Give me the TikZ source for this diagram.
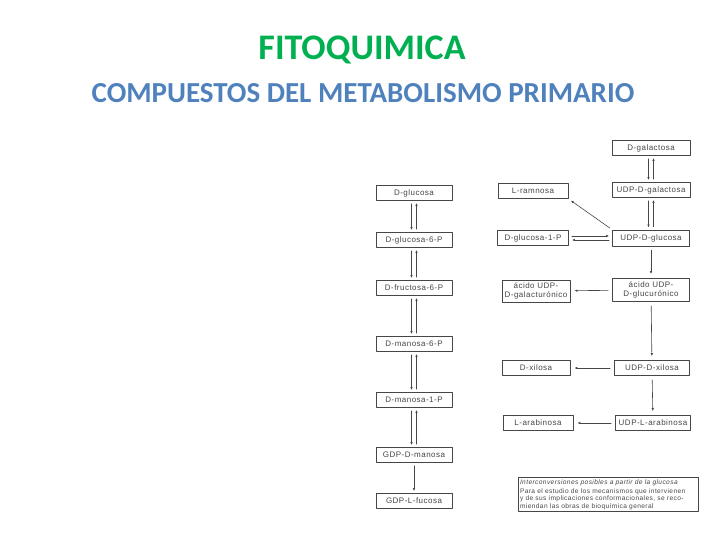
\documentclass[tikz,border=0pt]{standalone}
\usepackage{fontspec}
\usepackage{tikz}
\usetikzlibrary{arrows.meta}
\newfontfamily\titlefont{Carlito}
\newfontfamily\boxfont[LetterSpace=6]{Liberation Sans}
\definecolor{titlegreen}{RGB}{0,176,80}
\definecolor{titleblue}{RGB}{79,129,189}
\definecolor{scangray}{RGB}{70,70,70}

\begin{document}
\begin{tikzpicture}[
  x=1pt,y=-1pt,
  line cap=round,
  line join=round,
  sbox/.style={draw=scangray,fill=white,line width=0.7pt,minimum width=76pt,
    minimum height=15pt,inner sep=0pt,align=center,text=scangray,
    font=\boxfont\fontsize{8}{9}\selectfont},
  arr/.style={draw=scangray,line width=0.6pt,-{Latex[length=3pt,width=2.4pt]}},
  note/.style={draw=scangray,line width=0.6pt,text width=176pt,align=left,
    inner sep=2pt,text=scangray,font=\boxfont\fontsize{6.6}{7.4}\selectfont}
]
  \useasboundingbox (0,0) rectangle (728,546);

  % Titles
  \node[font=\titlefont\bfseries\fontsize{36}{38}\selectfont,text=titlegreen] (title) at (362,50) {FITOQUIMICA};
  \node[font=\titlefont\bfseries\fontsize{29}{32}\selectfont,text=titleblue] (subtitle) at (363,93) {COMPUESTOS DEL METABOLISMO PRIMARIO};

  % Left column
  \node[sbox] (gluc)   at (414,193) {D-glucosa};
  \node[sbox] (gluc6p) at (414,240) {D-glucosa-6-P};
  \node[sbox] (fruc6p) at (414,288) {D-fructosa-6-P};
  \node[sbox] (man6p)  at (414,344) {D-manosa-6-P};
  \node[sbox] (man1p)  at (414,400) {D-manosa-1-P};
  \node[sbox] (gdpman) at (414,455) {GDP-D-manosa};
  \node[sbox] (gdpfuc) at (414,501) {GDP-L-fucosa};

  % Right column
  \node[sbox,minimum width=78pt] (gal)    at (651,148) {D-galactosa};
  \node[sbox,minimum width=78pt] (udpgal) at (651,190) {UDP-D-galactosa};
  \node[sbox,minimum width=77pt,minimum height=16pt] (udpglc) at (651,238) {UDP-D-glucosa};
  \node[sbox,minimum width=77pt,minimum height=23pt] (acglcur) at (651,290) {ácido UDP-\\D-glucurónico};
  \node[sbox,minimum width=75pt] (udpxil) at (652,368) {UDP-D-xilosa};
  \node[sbox,minimum width=75pt] (udpara) at (653,423) {UDP-L-arabinosa};

  % Middle column
  \node[sbox,minimum width=70pt] (ram)     at (533,191) {L-ramnosa};
  \node[sbox,minimum width=71pt] (glc1p)   at (533,238) {D-glucosa-1-P};
  \node[sbox,minimum width=68pt,minimum height=22pt] (acgalur) at (536,291) {ácido UDP-\\D-galacturónico};
  \node[sbox,minimum width=68pt] (xil)     at (536,368) {D-xilosa};
  \node[sbox,minimum width=70pt] (ara)     at (538,423) {L-arabinosa};

  % Reversible steps, left column
  \foreach \a/\b in {gluc/gluc6p,gluc6p/fruc6p,fruc6p/man6p,man6p/man1p,man1p/gdpman}{
    \draw[arr,shorten >=2pt,shorten <=3pt] ([xshift=-2.5pt]\a.south) -- ([xshift=-2.5pt]\b.north);
    \draw[arr,shorten >=2pt,shorten <=3pt] ([xshift=2.5pt]\b.north) -- ([xshift=2.5pt]\a.south);
  }
  \draw[arr,shorten >=2pt,shorten <=3pt] (gdpman) -- (gdpfuc);

  % Reversible steps, right column
  \foreach \a/\b in {gal/udpgal,udpgal/udpglc}{
    \draw[arr,shorten >=2pt,shorten <=3pt] ([xshift=-2.5pt]\a.south) -- ([xshift=-2.5pt]\b.north);
    \draw[arr,shorten >=2pt,shorten <=3pt] ([xshift=2.5pt]\b.north) -- ([xshift=2.5pt]\a.south);
  }
  \draw[arr,shorten >=3pt,shorten <=3pt] ([yshift=-2pt]udpglc.west) -- ([yshift=-2pt]glc1p.east);
  \draw[arr,shorten >=3pt,shorten <=3pt] ([yshift=2pt]glc1p.east) -- ([yshift=2pt]udpglc.west);
  \draw[arr,shorten >=3pt,shorten <=3pt] (udpglc.north west) -- (ram.south east);
  \draw[arr,shorten >=4pt,shorten <=4pt] (udpglc) -- (acglcur);
  \draw[arr,shorten >=4pt,shorten <=4pt] (acglcur) -- (acgalur);
  \draw[arr,shorten >=4pt,shorten <=4pt] (acglcur) -- (udpxil);
  \draw[arr,shorten >=4pt,shorten <=4pt] (udpxil) -- (xil);
  \draw[arr,shorten >=4pt,shorten <=4pt] (udpxil) -- (udpara);
  \draw[arr,shorten >=4pt,shorten <=4pt] (udpara) -- (ara);

  % Note
  \node[note] (notebox) at (608,494.5) {\textit{Interconversiones posibles a partir de la glucosa}\\[2pt]
    Para el estudio de los mecanismos que intervienen\\
    y de sus implicaciones conformacionales, se reco-\\
    miendan las obras de bioquímica general};
\end{tikzpicture}
\end{document}
